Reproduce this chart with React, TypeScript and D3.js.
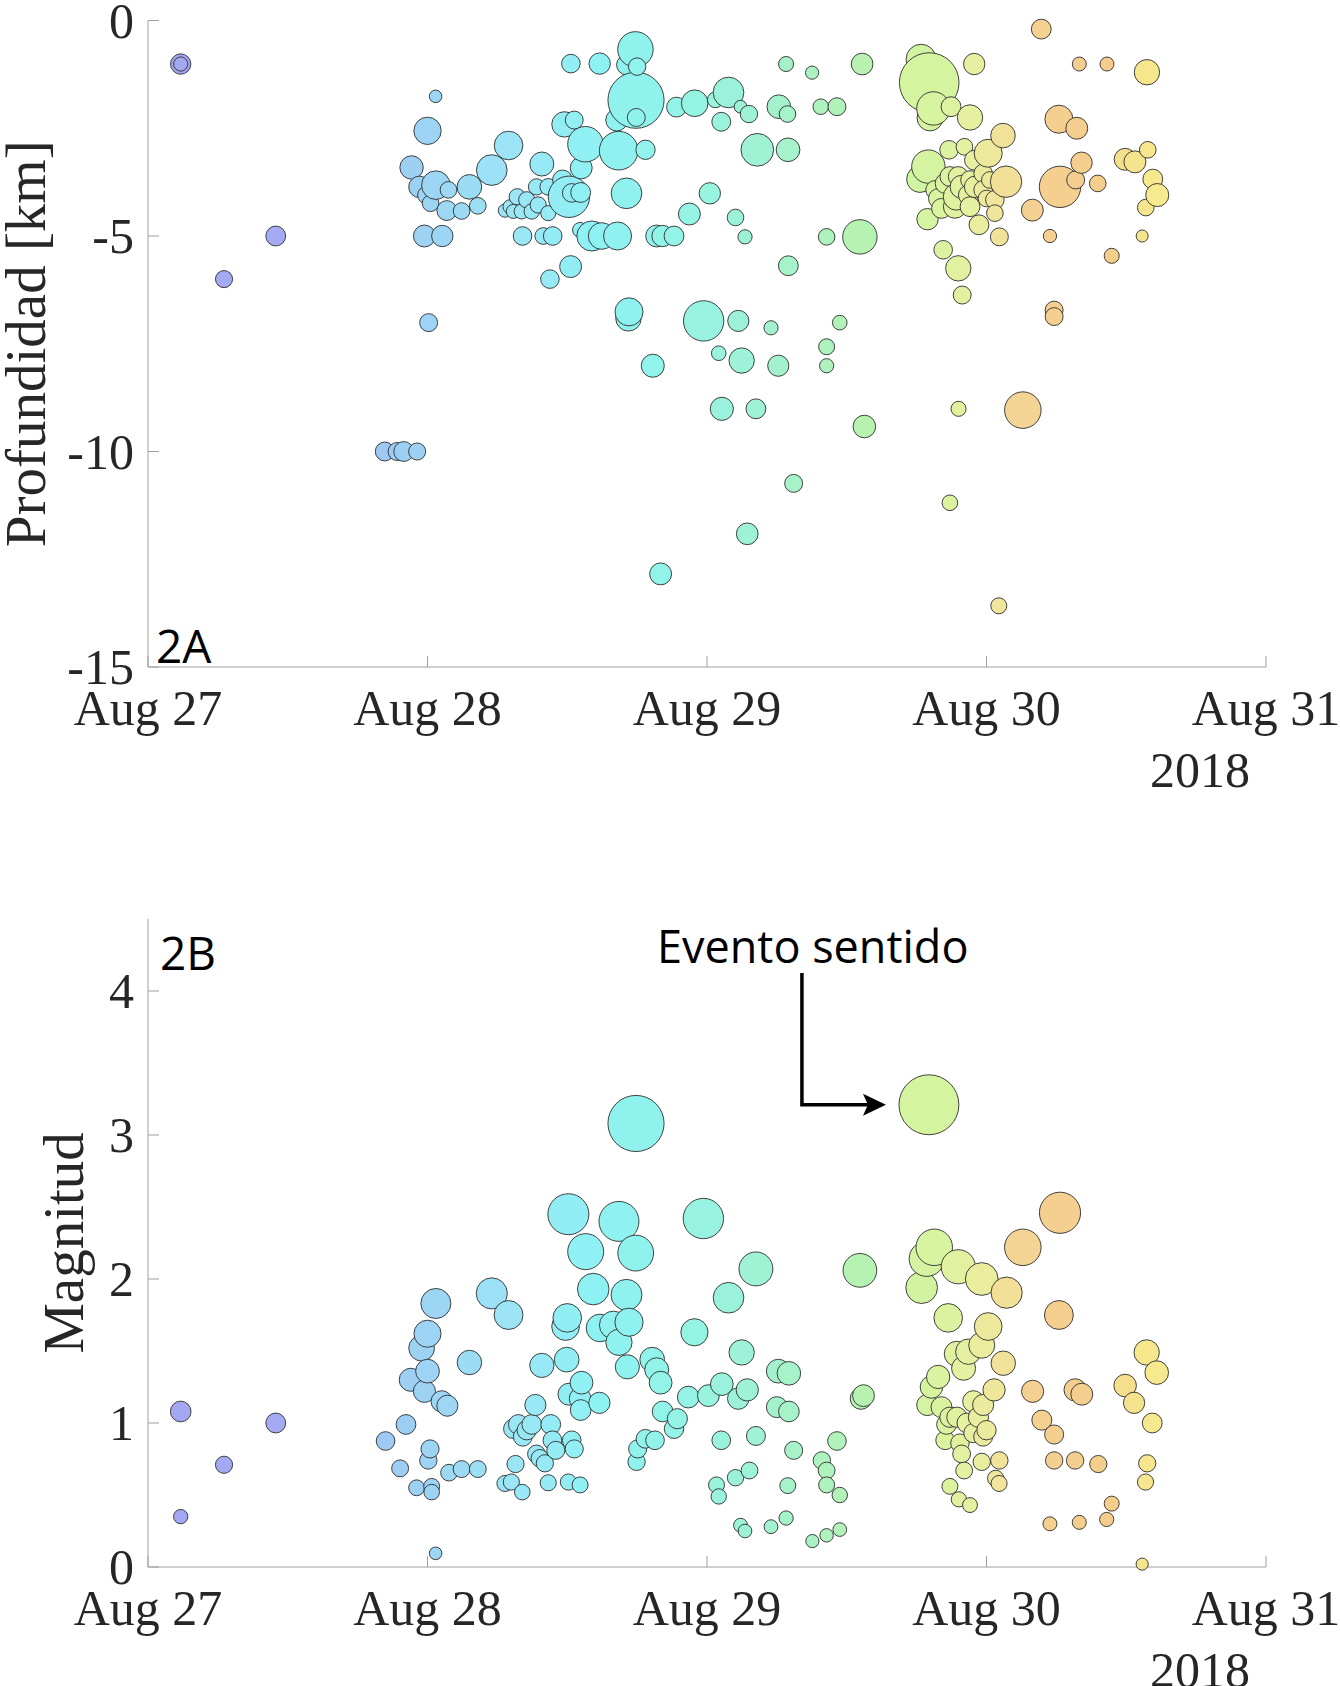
import React from 'react';
import * as d3 from 'd3';

// time in fractional days after 2018-08-27 00:00, depth in km, magnitude
const depthEvents: [number, number, number][] = [
  [0.117, -1.01, 1.05], [0.117, -1.01, 0.33], [0.272, -6.0, 0.7], [0.457, -5.0, 1.0],
  [0.847, -10.0, 0.9], [0.891, -10.0, 0.8], [0.915, -10.0, 1.0], [0.963, -10.0, 0.7],
  [1.029, -1.76, 0.09], [1.0, -2.56, 1.64], [0.943, -3.41, 1.33], [0.971, -3.86, 1.15],
  [0.997, -4.05, 0.8], [1.03, -3.82, 1.73], [1.075, -3.93, 0.65], [1.011, -4.24, 0.65],
  [1.069, -4.41, 1.0], [1.122, -4.42, 0.65], [1.15, -3.86, 1.43], [1.18, -4.3, 0.65],
  [1.23, -3.47, 1.87], [1.29, -2.9, 1.73], [1.409, -3.33, 1.38], [1.277, -4.41, 0.2],
  [1.295, -4.32, 0.3], [1.307, -4.43, 0.3], [1.321, -4.09, 0.6], [1.337, -4.43, 0.45],
  [1.355, -4.16, 0.6], [1.373, -4.43, 0.5], [1.39, -3.86, 0.6], [1.396, -4.28, 0.6],
  [1.432, -4.47, 0.45], [1.432, -3.86, 0.65], [1.483, -3.7, 1.0], [1.506, -4.09, 2.47],
  [1.516, -4.0, 0.87], [1.548, -3.99, 1.0], [1.55, -3.42, 1.2], [1.49, -2.41, 1.49],
  [1.525, -2.31, 0.8], [1.565, -2.87, 2.16], [1.513, -1.0, 0.87], [1.616, -1.0, 1.15],
  [1.712, -1.03, 1.0], [1.744, -0.67, 2.16], [1.75, -1.07, 0.74], [1.677, -2.31, 1.2],
  [1.746, -1.85, 3.08], [1.747, -2.25, 0.8], [1.684, -3.02, 2.33], [1.78, -3.0, 0.95],
  [1.712, -4.01, 1.87], [1.891, -2.01, 1.0], [1.956, -1.92, 1.59], [2.01, -4.01, 1.15],
  [1.937, -4.49, 1.2], [0.989, -5.0, 1.2], [1.053, -5.0, 1.15], [1.34, -5.0, 0.87],
  [1.414, -5.0, 0.65], [1.448, -5.0, 0.87], [1.546, -4.86, 0.45], [1.588, -5.0, 1.83],
  [1.623, -5.0, 1.59], [1.68, -5.0, 1.69], [1.82, -5.0, 1.2], [1.841, -5.0, 1.15],
  [1.882, -5.0, 1.0], [1.512, -5.71, 1.2], [1.438, -6.0, 0.87], [1.004, -7.01, 0.8],
  [1.719, -6.91, 1.5], [1.721, -6.76, 1.69], [1.988, -6.97, 2.42], [1.834, -12.84, 1.2],
  [1.806, -8.01, 1.3],
  [2.03, -1.84, 0.55], [2.077, -1.67, 1.87], [2.051, -2.35, 0.9], [2.12, -2.0, 0.12],
  [2.15, -2.17, 0.74], [2.257, -2.0, 1.35], [2.288, -2.17, 0.64], [2.283, -1.01, 0.45],
  [2.376, -1.21, 0.19], [2.407, -2.0, 0.52], [2.465, -2.0, 0.8], [2.555, -1.01, 1.18],
  [2.18, -3.0, 2.0], [2.29, -3.0, 1.35], [2.102, -4.57, 0.64], [2.136, -5.02, 0.33],
  [2.428, -5.02, 0.64], [2.547, -5.02, 2.1], [2.291, -5.69, 1.0], [2.112, -6.97, 1.13],
  [2.229, -7.13, 0.33], [2.475, -7.01, 0.39], [2.042, -7.72, 0.39], [2.124, -7.89, 1.49],
  [2.255, -8.01, 1.13], [2.428, -7.57, 0.57], [2.428, -8.01, 0.33], [2.053, -9.01, 1.31],
  [2.175, -9.01, 1.0], [2.563, -9.42, 1.26], [2.9, -9.01, 0.45], [3.13, -9.04, 2.22],
  [2.31, -10.74, 0.8], [2.869, -11.19, 0.52], [2.144, -11.91, 1.18], [3.044, -13.58, 0.57],
  [2.766, -0.9, 1.83], [2.795, -1.44, 3.2], [2.798, -2.26, 1.54], [2.81, -2.04, 2.04],
  [2.873, -2.0, 1.0], [2.941, -2.25, 1.49], [2.956, -1.01, 1.15], [3.196, -0.2, 1.0],
  [3.332, -1.01, 0.3], [3.431, -1.01, 0.3], [3.574, -1.2, 1.49], [3.259, -2.29, 1.69],
  [3.323, -2.5, 1.2], [3.059, -2.67, 1.43], [2.866, -3.0, 0.87], [2.921, -2.93, 0.65],
  [2.792, -3.39, 2.04], [2.762, -3.68, 1.59], [3.006, -3.08, 1.69], [2.957, -3.24, 1.0],
  [2.988, -3.55, 0.87], [3.07, -3.74, 1.92], [2.869, -3.62, 1.0], [2.899, -3.62, 1.0],
  [2.852, -3.78, 1.0], [2.911, -3.86, 1.3], [2.941, -3.7, 0.87], [2.959, -3.86, 1.15],
  [2.988, -3.93, 0.87], [3.012, -3.7, 0.65], [2.828, -4.13, 1.0], [2.816, -3.93, 0.87],
  [2.893, -4.09, 1.59], [2.935, -4.05, 1.0], [2.839, -4.36, 1.0], [2.887, -4.32, 1.3],
  [2.941, -4.32, 1.0], [3.0, -4.13, 0.65], [3.03, -4.16, 0.87], [3.03, -4.47, 0.65],
  [2.789, -4.61, 1.15], [2.973, -4.74, 1.0], [3.046, -5.02, 0.8], [3.164, -4.4, 1.2],
  [3.263, -3.86, 2.47], [3.319, -3.7, 0.8], [3.34, -3.3, 1.15], [3.398, -3.78, 0.65],
  [3.227, -5.0, 0.2], [3.448, -5.46, 0.45], [3.557, -5.0, 0.0], [3.496, -3.22, 1.2],
  [3.531, -3.28, 1.2], [3.577, -3.0, 0.65], [3.595, -3.68, 1.0], [3.611, -4.05, 1.3],
  [3.57, -4.34, 0.65], [2.845, -5.32, 0.87], [2.899, -5.75, 1.49], [2.913, -6.37, 0.8],
  [3.242, -6.72, 0.8], [3.242, -6.87, 0.8],
];

// time in fractional days after 2018-08-27 00:00, magnitude
const magEvents: [number, number][] = [
  [0.117, 1.08], [0.117, 0.35], [0.272, 0.71], [0.457, 1.0],
  [1.03, 1.83], [1.0, 1.62], [0.979, 1.52], [1.0, 1.36], [0.94, 1.3], [0.989, 1.22],
  [1.051, 1.15], [1.071, 1.12], [1.15, 1.42], [1.23, 1.9], [1.29, 1.75], [0.923, 0.99],
  [0.85, 0.875], [1.009, 0.82], [1.003, 0.74], [0.902, 0.685], [1.077, 0.655], [1.122, 0.68],
  [1.18, 0.68], [0.961, 0.55], [1.015, 0.56], [1.015, 0.52], [1.029, 0.095],
  [1.504, 2.45], [1.685, 2.4], [1.566, 2.19], [1.745, 2.18], [1.593, 1.93], [1.712, 1.89],
  [1.5, 1.73], [1.494, 1.67], [1.617, 1.66], [1.665, 1.68], [1.721, 1.7], [1.685, 1.56],
  [1.498, 1.44], [1.409, 1.4], [1.715, 1.39], [1.804, 1.44], [1.82, 1.37], [1.834, 1.28],
  [1.551, 1.28], [1.506, 1.2], [1.546, 1.17], [1.548, 1.09], [1.615, 1.14], [1.955, 1.63],
  [1.987, 2.42], [1.933, 1.18], [2.005, 1.19], [1.386, 1.125], [1.307, 0.96], [1.325, 0.99],
  [1.341, 0.905], [1.355, 0.95], [1.373, 0.99], [1.441, 0.99], [1.447, 0.88], [1.459, 0.81],
  [1.516, 0.88], [1.525, 0.82], [1.39, 0.785], [1.402, 0.755], [1.42, 0.72], [1.315, 0.715],
  [1.277, 0.58], [1.3, 0.59], [1.339, 0.52], [1.432, 0.585], [1.504, 0.59], [1.546, 0.57],
  [1.752, 0.82], [1.748, 0.73], [1.78, 0.89], [1.814, 0.88], [1.841, 1.08], [1.894, 1.03],
  [1.882, 0.96], [1.746, 3.08],
  [2.077, 1.87], [2.175, 2.07], [2.053, 1.27], [2.124, 1.49], [2.144, 1.23], [2.112, 1.17],
  [2.255, 1.36], [2.293, 1.345], [2.25, 1.11], [2.293, 1.08], [2.56, 1.19], [2.551, 1.17],
  [2.051, 0.88], [2.175, 0.91], [2.034, 0.57], [2.042, 0.49], [2.102, 0.62], [2.152, 0.67],
  [2.31, 0.81], [2.289, 0.565], [2.411, 0.74], [2.428, 0.67], [2.428, 0.57], [2.475, 0.5],
  [2.465, 0.875], [2.12, 0.29], [2.136, 0.25], [2.229, 0.28], [2.283, 0.34], [2.377, 0.18],
  [2.428, 0.22], [2.475, 0.26], [2.547, 2.06], [2.794, 3.21],
  [3.263, 2.46], [3.13, 2.22], [2.813, 2.22], [2.786, 2.14], [2.768, 1.94], [2.899, 2.085],
  [2.983, 2.0], [3.072, 1.905], [2.863, 1.73], [3.259, 1.75], [3.006, 1.67], [2.983, 1.54],
  [2.935, 1.495], [2.894, 1.48], [2.918, 1.38], [3.06, 1.415], [3.573, 1.49], [3.609, 1.35],
  [2.827, 1.32], [2.803, 1.25], [2.788, 1.125], [2.839, 1.11], [3.027, 1.23], [3.165, 1.22],
  [3.317, 1.23], [3.341, 1.2], [3.496, 1.26], [3.528, 1.14], [3.593, 1.0], [2.953, 1.15],
  [2.988, 1.125], [2.869, 1.04], [2.894, 1.04], [2.93, 1.0], [2.971, 1.04], [2.857, 0.99],
  [2.852, 0.88], [2.905, 0.86], [2.953, 0.93], [2.988, 0.905], [3.0, 0.95], [2.911, 0.785],
  [2.983, 0.73], [3.046, 0.74], [2.92, 0.67], [3.033, 0.615], [3.045, 0.58], [2.869, 0.56],
  [2.901, 0.47], [2.941, 0.43], [3.198, 1.02], [3.242, 0.92], [3.242, 0.74], [3.317, 0.74],
  [3.4, 0.715], [3.575, 0.72], [3.569, 0.59], [3.448, 0.44], [3.43, 0.33], [3.332, 0.31],
  [3.227, 0.3], [3.557, 0.02],
];

const depthTicks = [0, -5, -10, -15];
const magTicks = [0, 1, 2, 3, 4];
const dayOffsets = [0, 1, 2, 3, 4];
const colorDays = [0, 0.5, 0.9, 1.3, 1.6, 1.9, 2.2, 2.55, 2.8, 2.95, 3.05, 3.15, 3.45, 3.5, 3.6];
const colorValues = ['#a4a7f3', '#a4abf3', '#9dcdf3', '#9ce5f5', '#8ef2f4', '#93f3e6', '#a0f2d2',
  '#b6f2b2', '#d6f4a0', '#e6f0a0', '#f1e49a', '#f4d092', '#f4cd8b', '#f5e08c', '#f6e98e'];

const start = new Date(2018, 7, 27);
const toDate = (t: number) => new Date(start.getTime() + t * 864e5);

const serif = '"Liberation Serif", "Times New Roman", serif';
const sans = '"Open Sans", "Noto Sans", sans-serif';
const axisColor = '#a0a0a0';
const textColor = '#262626';

const x = d3.scaleTime().domain([toDate(0), toDate(4)]).range([148, 1266]);
const yDepth = d3.scaleLinear().domain([-15, 0]).range([667, 20.5]);
const yMag = d3.scaleLinear().domain([0, 4.5]).range([1567, 919]);
const rScale = d3.scaleSqrt().domain([0, 1]).range([0, 6.02]);
const radius = (m: number) => rScale(Math.exp(m));
const color = d3.scaleLinear<string>().domain(colorDays).range(colorValues)
  .interpolate(d3.interpolateRgb).clamp(true);
const fmtDay = d3.timeFormat('%b %d');

interface AxesProps {
  y: d3.ScaleLinear<number, number>;
  ticks: number[];
  label: string;
  labelX: number;
}

const Axes: React.FC<AxesProps> = ({ y, ticks, label, labelX }) => {
  const [y0, y1] = y.range();
  const [xa, xb] = x.range();
  return (
    <g>
      <line x1={xa} x2={xa} y1={y0} y2={y1} stroke={axisColor} strokeWidth={1} />
      <line x1={xa} x2={xb} y1={y0} y2={y0} stroke={axisColor} strokeWidth={1} />
      {ticks.map(t => (
        <g key={t}>
          <line x1={xa} x2={xa + 11} y1={y(t)} y2={y(t)} stroke={axisColor} />
          <text x={xa - 14} y={y(t)} dy="0.34em" textAnchor="end" fontFamily={serif}
            fontSize={50} fill={textColor}>{t}</text>
        </g>
      ))}
      {dayOffsets.map(d => (
        <g key={d}>
          <line x1={x(toDate(d))} x2={x(toDate(d))} y1={y0} y2={y0 - 11} stroke={axisColor} />
          <text x={x(toDate(d))} y={y0 + 58} textAnchor="middle" fontFamily={serif}
            fontSize={50} fill={textColor}>{fmtDay(toDate(d))}</text>
        </g>
      ))}
      <text x={1200} y={y0 + 120} textAnchor="middle" fontFamily={serif} fontSize={50}
        fill={textColor}>2018</text>
      <text transform={`translate(${labelX},${(y0 + y1) / 2}) rotate(-90)`} textAnchor="middle"
        fontFamily={serif} fontSize={57} fill={textColor}>{label}</text>
    </g>
  );
};

const byTime = <T extends number[]>(a: T, b: T) => a[0] - b[0] || b[b.length - 1] - a[a.length - 1];

const App: React.FC = () => {
  const topPts = [...depthEvents].sort(byTime);
  const botPts = [...magEvents].sort(byTime);
  const felt = magEvents.reduce((a, b) => (b[1] > a[1] ? b : a));
  const fx = x(toDate(felt[0]));
  const fy = yMag(felt[1]);
  const tipX = fx - radius(felt[1]) - 13;
  const stemX = fx - 127;

  return (
    <svg width={1340} height={1686} style={{ position: 'absolute', left: 0, top: 0, background: '#fff' }}>
      <rect width={1340} height={1686} fill="#fff" />
      <Axes y={yDepth} ticks={depthTicks} label="Profundidad [km]" labelX={45} />
      <Axes y={yMag} ticks={magTicks} label="Magnitud" labelX={83} />

      <g stroke="#2e2e2e" strokeWidth={0.9}>
        {topPts.map((d, i) => (
          <circle key={i} cx={x(toDate(d[0]))} cy={yDepth(d[1])} r={radius(d[2])} fill={color(d[0])} />
        ))}
        {botPts.map((d, i) => (
          <circle key={i} cx={x(toDate(d[0]))} cy={yMag(d[1])} r={radius(d[1])} fill={color(d[0])} />
        ))}
      </g>

      <text x={156} y={663} fontFamily={sans} fontSize={46} fill="#000">2A</text>
      <text x={160} y={970} fontFamily={sans} fontSize={46} fill="#000">2B</text>

      <text x={657} y={963} fontFamily={sans} fontSize={45} fill="#000">Evento sentido</text>
      <path d={`M${stemX},973 V${fy} H${tipX - 18}`} fill="none" stroke="#000" strokeWidth={3.5} />
      <path d={`M${tipX},${fy} L${tipX - 23},${fy - 11} L${tipX - 18},${fy} L${tipX - 23},${fy + 11} Z`}
        fill="#000" />
    </svg>
  );
};

export default App;
